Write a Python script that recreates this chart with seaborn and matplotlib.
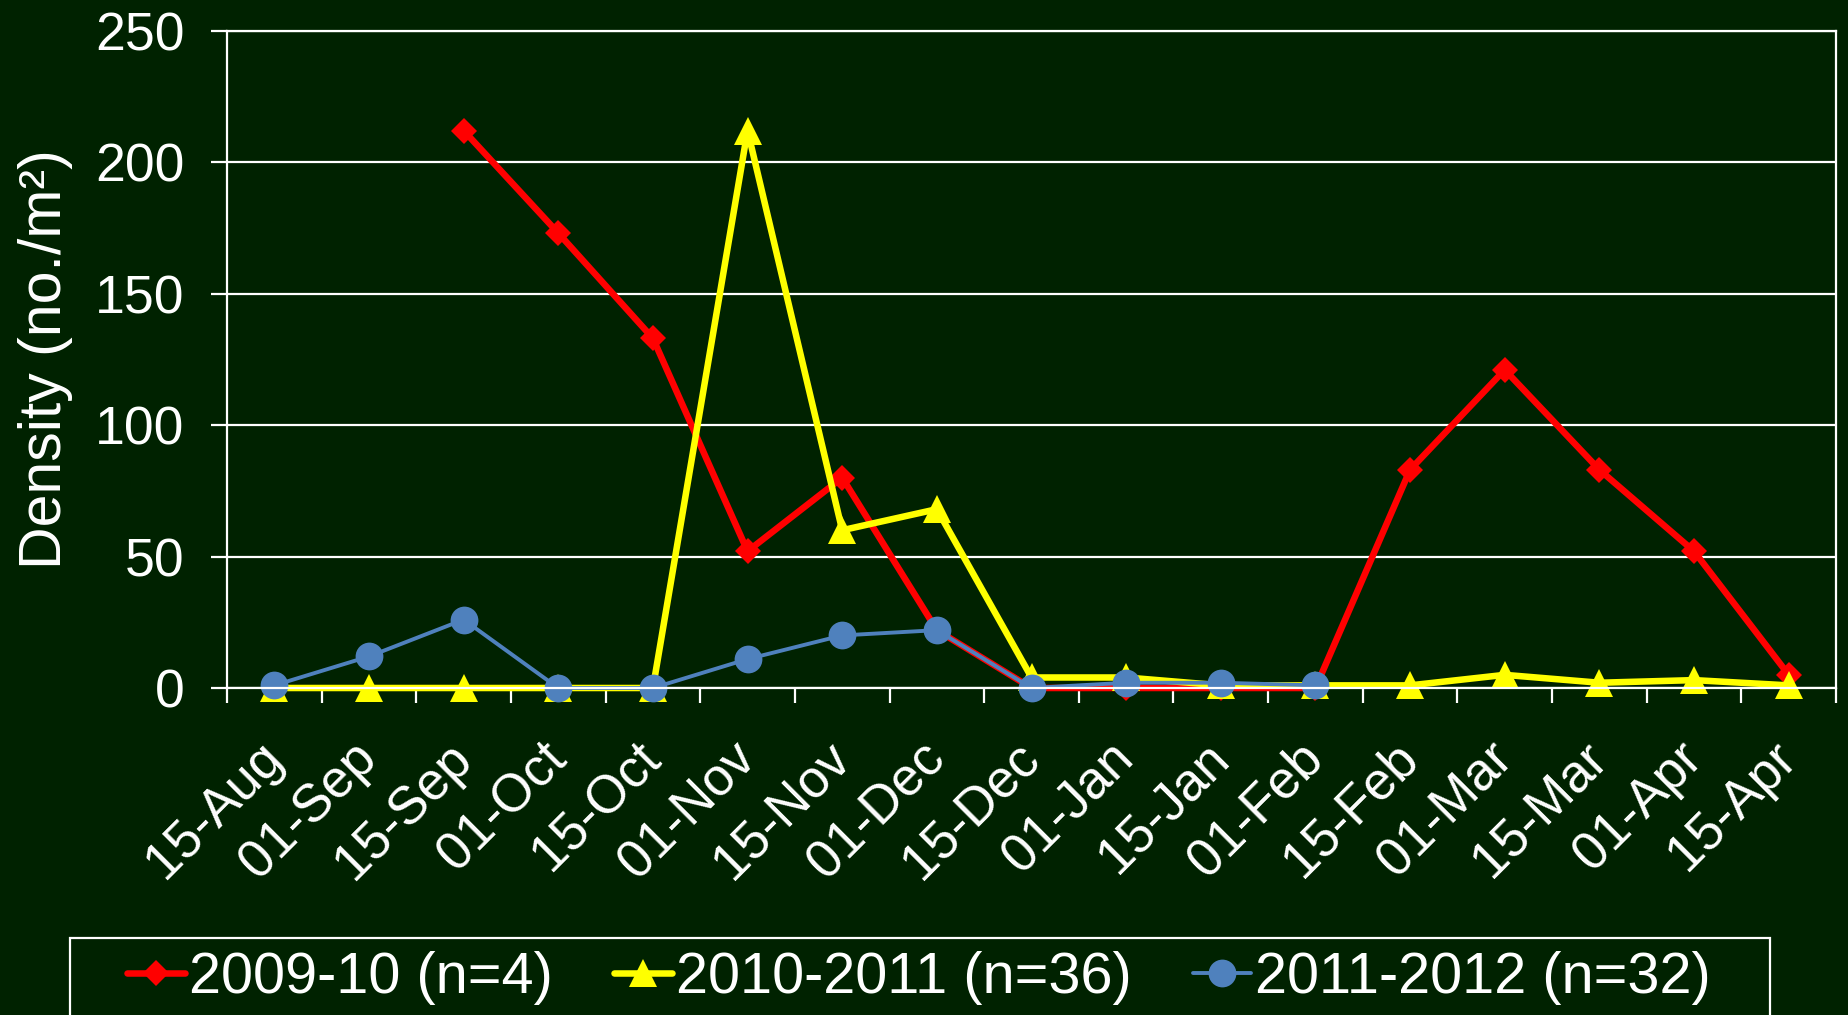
import matplotlib
matplotlib.use('Agg')
import matplotlib.pyplot as plt
from matplotlib.patches import Rectangle
import numpy as np
import pandas as pd
import seaborn as sns

# sampling dates (category axis)
dates = ['15-Aug', '01-Sep', '15-Sep', '01-Oct', '15-Oct', '01-Nov', '15-Nov',
         '01-Dec', '15-Dec', '01-Jan', '15-Jan', '01-Feb', '15-Feb', '01-Mar',
         '15-Mar', '01-Apr', '15-Apr']

nan = np.nan
dens_2009 = [nan, nan, 212, 173, 133, 52, 80, 22, 0, 0, 0, 0, 83, 121, 83, 52, 5]
dens_2010 = [0, 0, 0, 0, 0, 212, 60, 68, 4, 4, 1, 1, 1, 5, 2, 3, 1]
dens_2011 = [1, 12, 26, 0, 0, 11, 20, 22, 0, 2, 2, 1, nan, nan, nan, nan, nan]

labels = ['2009-10 (n=4)', '2010-2011 (n=36)', '2011-2012 (n=32)']

BG = '#002200'
FG = 'white'
W, H = 1848, 1015

sns.set_theme(style='ticks')
plt.rcParams['font.family'] = ['Liberation Sans', 'DejaVu Sans']

fig = plt.figure(figsize=(W/100, H/100), dpi=100, facecolor=BG)
ax = fig.add_axes([227/W, 1-688/H, 1609/W, (688-30.6)/H])
ax.set_facecolor(BG)

x = np.arange(len(dates))
df = pd.DataFrame({'x': x, 'a': dens_2009, 'b': dens_2010, 'c': dens_2011})

# column, colour, marker, marker size, line width
styles = [('a', '#ff0000', 'D', 13, 4.7),
          ('b', '#ffff00', '^', 20, 4.7),
          ('c', '#4f81bd', 'o', 20, 2.8)]
lines = []
for (col, c, m, ms, lw), lab in zip(styles, labels):
    sns.lineplot(data=df, x='x', y=col, ax=ax, color=c, marker=m,
                 estimator=None, errorbar=None, label=lab)
    ln = ax.lines[-1]
    ln.set_linewidth(lw)
    ln.set_markersize(ms)
    ln.set_markeredgecolor(c)
    ln.set_markerfacecolor(c)
    ln.set_markeredgewidth(0)
    ln.set_solid_joinstyle('round')
    ln.set_solid_capstyle('round')
    ln.set_clip_on(False)
    lines.append(ln)

ax.set_ylim(0, 250)
ax.set_xlim(-0.5, len(dates) - 0.5)
ax.set_yticks([0, 50, 100, 150, 200, 250])
ax.yaxis.grid(True, color=FG, lw=1.6)
ax.set_axisbelow(True)
for sp in ax.spines.values():
    sp.set_color(FG)
    sp.set_linewidth(1.6)

# tick marks between categories, labels on the categories
ax.set_xticks(np.arange(-0.5, len(dates), 1))
ax.set_xticklabels([])
ax.set_xticks(x, minor=True)
ax.set_xticklabels(dates, minor=True, rotation=45, ha='right',
                   va='center', rotation_mode='anchor')
ax.tick_params(axis='x', which='major', length=11, width=1.6, color=FG)
ax.tick_params(axis='x', which='minor', length=0, pad=45, labelsize=38,
               labelcolor=FG)
ax.tick_params(axis='y', length=11.5, width=1.6, color=FG, labelsize=38.5,
               labelcolor=FG, pad=19)

ax.set_xlabel('')
ax.set_ylabel('Density (no./m²)', fontsize=42.5, color=FG)
ax.yaxis.set_label_coords(-0.0957, 0.5)

# legend box runs off the bottom of the figure, as in the original
fig.patches.append(Rectangle((70/W, -0.05), 1700/W, 0.05 + (1-938/H),
                             transform=fig.transFigure, fill=False,
                             edgecolor=FG, lw=1.6))
leg = ax.legend(handles=lines, labels=labels, ncol=3,
                loc='upper left', bbox_to_anchor=(127/W, 1-951/H),
                bbox_transform=fig.transFigure, borderaxespad=0,
                fontsize=41.5, frameon=False, handlelength=1.0,
                handletextpad=0.07, columnspacing=1.07, borderpad=0)
for t in leg.get_texts():
    t.set_color(FG)

fig.savefig('out.png', dpi=100, facecolor=BG)
